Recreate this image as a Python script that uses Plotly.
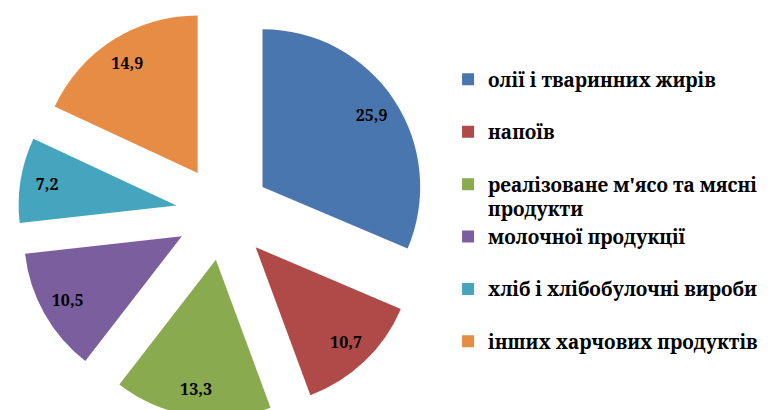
import plotly.graph_objects as go

categories = [
    "олії і тваринних жирів",
    "напоїв",
    "реалізоване м'ясо та мясні<br>продукти",
    "молочної продукції",
    "хліб і хлібобулочні вироби",
    "інших харчових продуктів",
]
values = [25.9, 10.7, 13.3, 10.5, 7.2, 14.9]
colors = ["#4A76B0", "#B04A48", "#8AAA50", "#7A5E9E", "#45A5BE", "#E68C44"]

SERIF = "Noto Serif, Liberation Serif, serif"

legend_labels = [c if "<br>" in c else c + "<br> " for c in categories]

common = dict(
    labels=legend_labels,
    values=values,
    sort=False,
    direction="clockwise",
    rotation=0,
    pull=[0.3] * len(values),
    domain=dict(x=[0.012, 0.548], y=[0.0, 1.0]),
    hoverinfo="skip",
)

fig = go.Figure()
# slices
fig.add_trace(go.Pie(
    **common,
    marker=dict(colors=colors, line=dict(width=0)),
    textinfo="none",
))
# value labels, placed in the outer ring of each slice
fig.add_trace(go.Pie(
    **common,
    hole=0.66,
    marker=dict(colors=["rgba(0,0,0,0)"] * len(values), line=dict(width=0)),
    texttemplate="%{value:.1f}",
    textposition="inside",
    insidetextorientation="horizontal",
    textfont=dict(family=SERIF, size=16, color="black", weight="bold"),
    showlegend=False,
))

fig.update_layout(
    width=768, height=410,
    margin=dict(l=0, r=0, t=0, b=0),
    paper_bgcolor="white",
    separators=", ",
    showlegend=True,
    legend=dict(
        x=0.573, y=0.872, xanchor="left", yanchor="top",
        font=dict(family=SERIF, size=19, color="black", weight="bold"),
        valign="top",
        itemwidth=30,
    ),
    font=dict(family=SERIF, weight="bold"),
)

fig.write_html("out.html")
